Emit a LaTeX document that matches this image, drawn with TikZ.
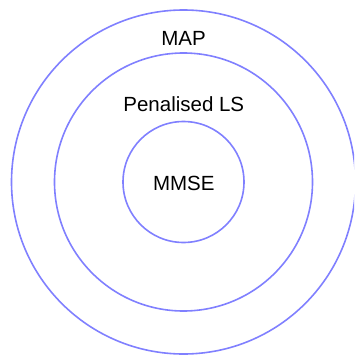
\documentclass[tikz,border=0pt]{standalone}
\usepackage{fontspec}
\setmainfont{Liberation Sans}
\definecolor{ringblue}{RGB}{128,128,255}
\begin{document}
\begin{tikzpicture}[x=1pt,y=1pt,
  ring/.style={circle, draw=ringblue, line width=1.6pt, inner sep=0pt},
  lbl/.style={anchor=base, inner sep=0pt, font=\fontsize{20.5}{24}\selectfont, text=black}]
\useasboundingbox (0,0) rectangle (354,-356);
\clip (0,0) rectangle (354,-356);
\coordinate (c) at (183.5,-182);
\node[ring, minimum size=344pt] (outer) at (c) {};
\node[ring, minimum size=258pt] (middle) at (c) {};
\node[ring, minimum size=121pt] (inner) at (c) {};
\node[lbl] (map) at (183.5,-45.7) {MAP};
\node[lbl] (pls) at (183.8,-111.7) {Penalised LS};
\node[lbl] (mmse) at (183.8,-190.7) {MMSE};
\end{tikzpicture}
\end{document}
